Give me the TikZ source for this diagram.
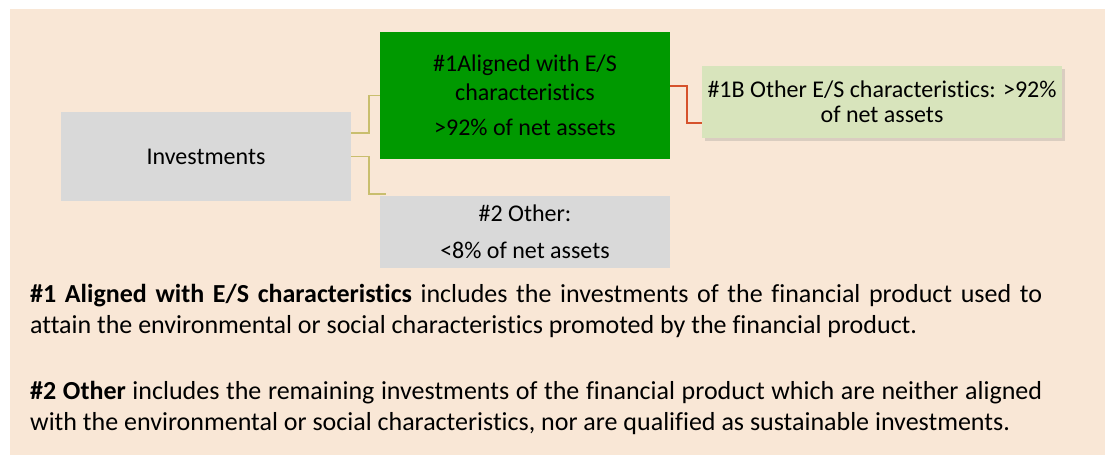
\documentclass[tikz,border=0pt]{standalone}
\usepackage{fontspec}
\setmainfont{Carlito}[Ligatures=NoCommon]
\usetikzlibrary{shadows}
\definecolor{bg}{RGB}{249,231,214}
\definecolor{boxgray}{RGB}{217,217,217}
\definecolor{boxgreen}{RGB}{0,153,0}
\definecolor{boxlight}{RGB}{216,228,188}
\definecolor{conyel}{RGB}{201,190,110}
\definecolor{conred}{RGB}{214,82,44}
\begin{document}
\begin{tikzpicture}[x=1pt,y=-1pt,
  every node/.style={font=\fontsize{24}{29}\selectfont, text=black, inner sep=0pt},
  box/.style={rectangle, draw=none, align=center},
  para/.style={anchor=base west, font=\fontsize{26}{31.5}\selectfont},
  yelcon/.style={draw=conyel, line width=1.6pt},
  redcon/.style={draw=conred, line width=1.5pt}]
\useasboundingbox (0,0) rectangle (1105,455);
\fill[bg] (10,9) rectangle (1105,455);
\node[box, fill=boxgray, minimum width=290pt, minimum height=89pt] (inv) at (206,156.5) {Investments};
\node[box, fill=boxgreen, minimum width=290pt, minimum height=127pt] (al) at (525,95.5) {\#1Aligned with E/S\\characteristics\\[6pt]>92\% of net assets};
\node[box, fill=boxgray, minimum width=290pt, minimum height=72pt] (oth) at (525,232) {\#2 Other:\\[8pt]<8\% of net assets};
\node[box, fill=boxlight, minimum width=360pt, minimum height=72pt, font=\fontsize{24}{24.5}\selectfont,
  drop shadow={opacity=0.25, shadow xshift=3pt, shadow yshift=-3pt}] (lg) at (882,102) {\#1B Other E/S characteristics: >92\%\\of net assets};
\draw[yelcon] ([yshift=23.5pt]inv.east) -- ++(18,0) |- (al.west);
\draw[yelcon] (inv.east) -- ++(18,0) |- ([xshift=6pt,yshift=2pt]oth.north west);
\draw[redcon] ([yshift=9.5pt]al.east) -- ++(17,0) |- ([yshift=-21pt]lg.west);
\node[para] (l1) at (30,302.3) {\makebox[1012pt][s]{\textbf{\#1 Aligned with E/S characteristics} includes the investments of the financial product used to}};
\node[para] (l2) at (30,333.3) {attain the environmental or social characteristics promoted by the financial product.};
\node[para] (l3) at (30,399) {\makebox[1012pt][s]{\textbf{\#2 Other} includes the remaining investments of the financial product which are neither aligned}};
\node[para] (l4) at (30,430.7) {with the environmental or social characteristics, nor are qualified as sustainable investments.};
\end{tikzpicture}
\end{document}
